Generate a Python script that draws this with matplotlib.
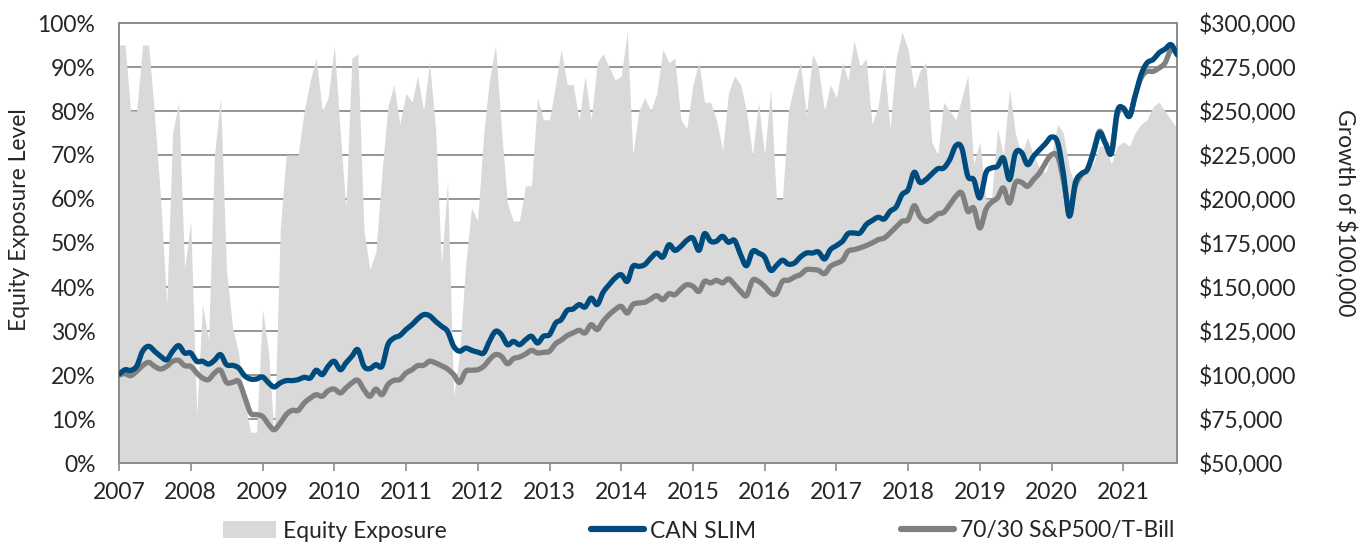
import numpy as np
import pandas as pd
import matplotlib
matplotlib.use("Agg")
import matplotlib.pyplot as plt
import matplotlib.dates as mdates
from matplotlib.ticker import FuncFormatter, MultipleLocator
from matplotlib.patches import Patch
from matplotlib.lines import Line2D

plt.rcParams["font.family"] = ["Lato", "DejaVu Sans"]

# monthly observations, Jan 2007 .. Oct 2021
months = pd.date_range("2007-01-01", "2021-10-01", freq="MS")

# equity exposure level, percent
exposure = [
    95, 95, 80, 80, 95, 95, 79, 60, 36, 75, 82, 44,
    55, 11, 36, 28, 70, 83, 44, 31, 25, 14, 7, 7,
    35, 25, 6, 53, 70, 70, 70, 80, 87, 92, 80, 83,
    95, 75, 58, 92, 93, 53, 44, 48, 66, 81, 86, 77,
    84, 82, 88, 80, 91, 76, 45, 64, 15, 25, 45, 58,
    55, 75, 87, 95, 76, 59, 55, 55, 63, 63, 83, 78,
    78, 86, 94, 86, 86, 78, 88, 78, 91, 93, 90, 87,
    88, 98, 70, 80, 83, 80, 84, 94, 91, 92, 78, 76,
    86, 91, 82, 82, 78, 71, 84, 88, 86, 80, 70, 82,
    70, 85, 60, 60, 80, 86, 91, 79, 93, 90, 80, 86,
    83, 91, 87, 96, 90, 92, 77, 81, 91, 76, 92, 98,
    94, 85, 89, 91, 73, 70, 82, 80, 78, 83, 88, 68,
    73, 60, 60, 76, 70, 85, 75, 70, 74, 70, 67, 66,
    70, 77, 75, 67, 63, 65, 67, 68, 72, 72, 68, 72,
    73, 72, 75, 77, 78, 81, 82, 80, 78, 76,
]

# growth of $100,000, in thousands of dollars
can_slim = [
    100.5, 103.0, 102.6, 105.0, 113.5, 116.3, 113.5, 110.6, 108.7, 113.5, 116.7, 112.5,
    112.5, 107.8, 107.8, 106.2, 108.3, 111.6, 105.9, 105.5, 104.0, 99.6, 97.7, 97.7,
    98.9, 95.5, 93.2, 95.5, 96.8, 96.8, 97.4, 98.7, 98.3, 102.7, 100.2, 105.0,
    107.8, 103.0, 106.8, 110.6, 114.4, 105.0, 103.6, 105.9, 105.0, 117.2, 121.0, 122.4,
    125.8, 128.6, 131.8, 134.3, 133.7, 130.5, 127.7, 124.8, 116.3, 113.5, 115.3, 114.0,
    113.0, 112.5, 119.1, 124.8, 122.9, 117.2, 119.1, 117.2, 120.0, 122.0, 118.2, 122.0,
    122.9, 129.5, 131.4, 136.7, 137.5, 140.0, 138.6, 143.7, 140.0, 147.0, 151.3, 155.1,
    157.0, 153.2, 161.7, 161.7, 162.7, 166.5, 169.3, 167.0, 174.0, 170.8, 173.1, 176.5,
    177.8, 170.8, 180.3, 176.0, 176.0, 178.8, 175.4, 176.5, 168.4, 162.1, 170.3, 169.3,
    167.0, 159.5, 162.1, 165.2, 163.0, 163.6, 167.0, 169.3, 169.3, 169.9, 165.9, 171.2,
    173.5, 176.0, 180.3, 180.7, 180.7, 185.4, 187.7, 189.6, 188.6, 193.0, 195.5, 202.5,
    205.3, 215.2, 209.5, 211.0, 214.2, 217.2, 217.6, 222.4, 230.3, 229.0, 212.9, 211.0,
    200.6, 214.8, 217.6, 218.6, 223.3, 211.0, 226.0, 226.5, 219.5, 224.2, 228.0, 231.4,
    235.2, 232.2, 214.8, 190.2, 209.1, 214.4, 216.7, 226.1, 237.5, 231.8, 226.1, 249.8,
    251.7, 247.0, 258.3, 270.6, 277.3, 279.2, 283.0, 285.2, 287.7, 282.0,
]

balanced = [
    100.0, 100.8, 99.6, 102.1, 105.3, 107.2, 104.9, 103.4, 104.9, 107.8, 108.3, 105.3,
    104.9, 101.1, 98.3, 97.4, 101.1, 102.7, 95.8, 95.8, 96.4, 87.9, 78.4, 77.5,
    76.5, 71.8, 68.9, 72.7, 77.5, 79.9, 79.9, 84.1, 86.9, 88.8, 87.9, 91.1,
    92.0, 89.8, 92.6, 95.5, 97.0, 91.7, 87.9, 92.0, 88.8, 94.5, 97.0, 97.4,
    101.1, 103.0, 105.3, 105.5, 107.8, 106.8, 105.3, 103.4, 100.2, 95.8, 102.1, 102.7,
    103.0, 104.9, 108.7, 111.6, 110.6, 106.4, 109.3, 110.2, 111.9, 114.0, 112.5, 112.9,
    113.5, 117.8, 119.7, 122.4, 123.9, 125.4, 123.9, 128.6, 125.8, 130.5, 134.3, 137.1,
    139.0, 135.2, 140.0, 140.9, 141.3, 143.2, 145.1, 142.8, 146.2, 145.6, 148.9, 151.3,
    150.4, 147.5, 153.2, 152.3, 153.8, 152.3, 154.6, 151.3, 147.5, 145.1, 153.8, 153.2,
    150.4, 146.6, 146.2, 153.2, 153.8, 155.7, 157.0, 159.9, 159.9, 159.5, 157.6, 161.7,
    163.5, 165.2, 170.3, 171.2, 172.2, 173.5, 175.0, 176.9, 177.8, 180.7, 184.1, 187.3,
    188.3, 196.2, 190.2, 187.3, 188.6, 191.5, 192.4, 196.8, 201.5, 203.4, 193.0, 194.9,
    183.5, 194.0, 198.1, 200.6, 206.3, 197.7, 209.1, 209.5, 207.2, 211.0, 214.8, 220.5,
    225.2, 224.3, 211.0, 193.0, 207.2, 213.8, 216.7, 227.1, 238.5, 231.8, 226.1, 247.9,
    250.8, 247.0, 258.3, 268.8, 272.5, 272.5, 274.4, 277.3, 284.9, 283.0,
]

AREA_COLOR = "#d9d9d9"
BLUE = "#004b7d"
GRAY = "#808080"
GRID = "#8c8c8c"
TEXT = "#262626"
FS = 16.5


def smooth_path(x, y, steps=8):
    """Catmull-Rom curve through every point, like a spreadsheet 'smoothed line'."""
    x = np.asarray(x, float)
    y = np.asarray(y, float)
    px = np.concatenate([[2 * x[0] - x[1]], x, [2 * x[-1] - x[-2]]])
    py = np.concatenate([[2 * y[0] - y[1]], y, [2 * y[-1] - y[-2]]])
    t = np.linspace(0, 1, steps, endpoint=False)
    xs, ys = [], []
    for i in range(1, len(px) - 2):
        for p, out in ((px, xs), (py, ys)):
            p0, p1, p2, p3 = p[i - 1], p[i], p[i + 1], p[i + 2]
            out.append(0.5 * (2 * p1 + (-p0 + p2) * t
                              + (2 * p0 - 5 * p1 + 4 * p2 - p3) * t ** 2
                              + (-p0 + 3 * p1 - 3 * p2 + p3) * t ** 3))
    xs.append([x[-1]])
    ys.append([y[-1]])
    return np.concatenate(xs), np.concatenate(ys)


fig = plt.figure(figsize=(13.69, 5.45), dpi=100)
ax = fig.add_axes([119 / 1369, 82 / 545, 1058 / 1369, 440 / 545])

ax.fill_between(months, 0, np.array(exposure) / 100, color=AREA_COLOR, lw=0, zorder=2)
ax.set_xlim(months[0], months[-1])
ax.set_ylim(0, 1)
ax.yaxis.set_major_locator(MultipleLocator(0.1))
ax.yaxis.set_major_formatter(FuncFormatter(lambda v, _: f"{v * 100:.0f}%"))
ax.grid(axis="y", color=GRID, lw=1.3)
ax.set_axisbelow(True)
ax.xaxis.set_major_locator(mdates.YearLocator())
ax.xaxis.set_major_formatter(mdates.DateFormatter("%Y"))
ax.tick_params(axis="y", length=0, pad=17, labelsize=FS, labelcolor=TEXT)
ax.tick_params(axis="x", length=6, width=1.2, color=GRID, pad=8, labelsize=FS, labelcolor=TEXT)

ax2 = ax.twinx()
xnum = mdates.date2num(months)
for series, color, z in ((balanced, GRAY, 3), (can_slim, BLUE, 4)):
    sx, sy = smooth_path(xnum, np.array(series) * 1000)
    ax2.plot(sx, sy, color=color, lw=3.8, solid_joinstyle="round",
             solid_capstyle="round", zorder=z)
ax2.set_xlim(xnum[0], xnum[-1])
ax2.set_ylim(50000, 300000)
ax2.yaxis.set_major_locator(MultipleLocator(25000))
ax2.yaxis.set_major_formatter(FuncFormatter(lambda v, _: f"${v:,.0f}"))
ax2.tick_params(axis="y", length=0, pad=16, labelsize=FS, labelcolor=TEXT)

for a in (ax, ax2):
    for sp in a.spines.values():
        sp.set_color(GRID)
        sp.set_linewidth(1.3)

fig.text(20 / 1369, 1 - 220 / 545, "Equity Exposure Level", rotation=90,
         ha="center", va="center", fontsize=FS, color=TEXT)
fig.text(1345 / 1369, 1 - 213 / 545, "Growth of $100,000", rotation=270,
         ha="center", va="center", fontsize=FS, color=TEXT)

handles = [
    Patch(facecolor=AREA_COLOR, edgecolor="none"),
    Line2D([0], [0], color=BLUE, lw=4.5, solid_capstyle="round"),
    Line2D([0], [0], color=GRAY, lw=4.5, solid_capstyle="round"),
]
labels = ["Equity Exposure", "CAN SLIM", "70/30 S&P500/T-Bill"]
leg = fig.legend(handles, labels, loc="center", bbox_to_anchor=(699 / 1369, 1 - 531 / 545),
                 ncol=3, frameon=False, fontsize=FS, handlelength=2.3,
                 handletextpad=0.3, columnspacing=6.3)
for t in leg.get_texts():
    t.set_color(TEXT)

fig.savefig("out.png", dpi=100)
